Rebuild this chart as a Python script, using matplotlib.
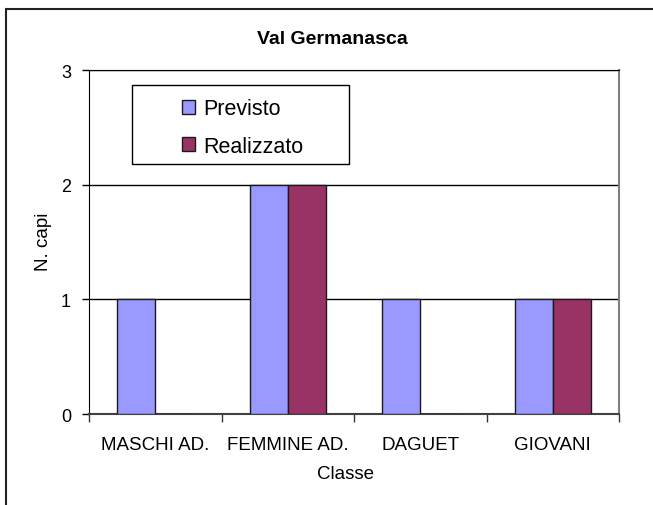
import matplotlib
matplotlib.use("Agg")
import matplotlib.pyplot as plt
from matplotlib.patches import Rectangle
import numpy as np

categories = ["MASCHI AD.", "FEMMINE AD.", "DAGUET", "GIOVANI"]
previsto = [1, 2, 1, 1]
realizzato = [0, 2, 0, 1]
series_names = ["Previsto", "Realizzato"]
yticks = [0, 1, 2, 3]

plt.rcParams['font.family'] = ['Liberation Sans', 'DejaVu Sans']

W, H = 653, 506
fig = plt.figure(figsize=(W / 100, H / 100), dpi=100)
fig.patch.set_facecolor('white')

# outer chart border (extends beyond right/bottom edges)
fig.add_artist(Rectangle((6 / W, -0.1), 1.2, 1 - 10 / H + 0.1, transform=fig.transFigure,
                         fill=False, edgecolor='#222222', linewidth=1.5))

l, r, t, b = 89, 619, 71, 415
ax = fig.add_axes([l / W, 1 - b / H, (r - l) / W, (b - t) / H])

x = np.arange(len(categories))
w = 1 / 3.5
c1, c2 = '#9999FF', '#993366'
ax.bar(x - w / 2, previsto, width=w, color=c1, edgecolor='#1a1a1a', linewidth=1.0,
       label=series_names[0], zorder=3)
ax.bar(x + w / 2, realizzato, width=w, color=c2, edgecolor='#1a1a1a', linewidth=1.0,
       label=series_names[1], zorder=3)

ax.set_xlim(-0.5, len(categories) - 0.5)
ax.set_ylim(0, 3)
ax.set_yticks(yticks)
ax.set_yticklabels([str(v) for v in yticks], fontsize=13)
ax.yaxis.grid(True, color='black', linewidth=1.0, zorder=0)
ax.set_axisbelow(True)

ax.set_xticks(x)
ax.set_xticklabels(categories, fontsize=13.5)
ax.set_xticks(np.arange(len(categories) + 1) - 0.5, minor=True)
ax.tick_params(axis='x', which='major', length=0, pad=16)
ax.tick_params(axis='x', which='minor', length=6, width=1, color='#333333', direction='out')
ax.tick_params(axis='y', length=5, width=1, direction='out', pad=8)

ax.spines['left'].set_color('black')
ax.spines['bottom'].set_color('#404040')
ax.spines['bottom'].set_linewidth(1.5)
ax.spines['top'].set_color('black')
ax.spines['right'].set_color('#808080')
ax.spines['right'].set_linewidth(1.5)

# legend frame drawn separately
lx0, lx1, ly0, ly1 = 132, 349, 86, 165
ax.add_patch(Rectangle(((lx0 - l) / (r - l), (b - ly1) / (b - t)), (lx1 - lx0) / (r - l),
                       (ly1 - ly0) / (b - t), transform=ax.transAxes, fill=True,
                       facecolor='white', edgecolor='black', linewidth=1.0, zorder=4))
cx = ((lx0 + lx1) / 2 + 2 - l) / (r - l)
cy = (b - (ly0 + ly1) / 2 - 3) / (b - t)
leg = ax.legend(loc='center', bbox_to_anchor=(cx, cy), frameon=False, fontsize=15.5,
                handlelength=0.6, handleheight=0.6, handletextpad=0.4, labelspacing=0.75,
                borderpad=0)
leg.set_zorder(5)

fig.text(332 / W, 1 - 39 / H, "Val Germanasca", ha='center', va='center',
         fontsize=14, fontweight='bold')
fig.text(43 / W, 1 - 242 / H, "N. capi", ha='center', va='center', rotation=90, fontsize=13.5)
fig.text(346 / W, 1 - 475 / H, "Classe", ha='center', va='center', fontsize=13.5)

fig.savefig("out.png", dpi=100)
